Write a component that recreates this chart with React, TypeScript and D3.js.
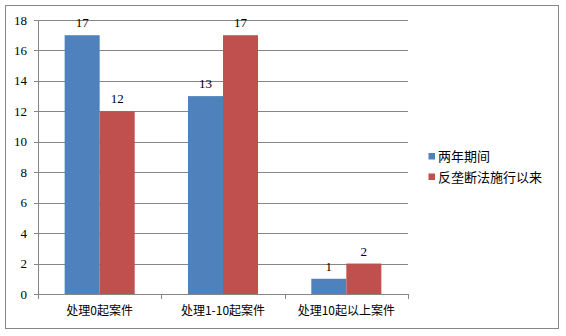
import React from "react";
import * as d3 from "d3";

const categories = ["处理0起案件", "处理1-10起案件", "处理10起以上案件"];
const seriesNames = ["两年期间", "反垄断法施行以来"];
const seriesA = [17, 13, 1];
const seriesB = [12, 17, 2];
const yTicks = [0, 2, 4, 6, 8, 10, 12, 14, 16, 18];
const colors = ["#4F81BD", "#C0504D"];

export default function App() {
  const W = 566, H = 336;
  const left = 38, right = 408, top = 20, bottom = 294;
  const x = d3.scaleBand<string>().domain(categories).range([left, right]).paddingInner(0).paddingOuter(0);
  const y = d3.scaleLinear().domain([0, 18]).range([bottom, top]);
  const bw = x.bandwidth();
  const barW = bw * 0.284;
  const series = [seriesA, seriesB];
  const serif = "'Liberation Serif', 'DejaVu Serif', serif";
  const cjk = "'Noto Sans CJK SC', sans-serif";
  return (
    <svg width={W} height={H} style={{ position: "absolute", left: 0, top: 0, display: "block" }}>
      <rect x={0} y={0} width={W} height={H} fill="#fff" />
      <rect x={5.5} y={5.5} width={553} height={323} fill="#fff" stroke="#868686" strokeWidth={1} />
      {yTicks.map((t) => (
        <g key={t}>
          <line x1={left - 4} x2={right} y1={Math.round(y(t)) + 0.5} y2={Math.round(y(t)) + 0.5} stroke="#868686" />
          <text x={27} y={y(t) + 4.5} textAnchor="end" fontFamily={serif} fontSize={13} fill="#000">{t}</text>
        </g>
      ))}
      <line x1={left + 0.5} x2={left + 0.5} y1={top} y2={bottom + 5} stroke="#868686" />
      {categories.map((c, i) => (
        <line key={"t" + i} x1={Math.round(x(c)! + bw) + 0.5} x2={Math.round(x(c)! + bw) + 0.5} y1={bottom} y2={bottom + 5} stroke="#868686" />
      ))}
      {categories.map((c, i) => {
        const cx = x(c)! + bw / 2;
        return (
          <g key={c}>
            {series.map((s, j) => {
              const bx = cx - barW + j * barW;
              return (
                <g key={j}>
                  <rect x={bx} y={y(s[i])} width={barW} height={bottom - y(s[i])} fill={colors[j]} />
                  <text x={bx + barW / 2} y={y(s[i]) - 8} textAnchor="middle" fontFamily={serif} fontSize={13} fill="#000">{s[i]}</text>
                </g>
              );
            })}
            <text x={cx} y={315} textAnchor="middle" fontFamily={cjk} fontSize={12} fill="#000">{c}</text>
          </g>
        );
      })}
      {seriesNames.map((n, j) => (
        <g key={n}>
          <rect x={428.5} y={153 + j * 20.5} width={6.5} height={6.5} fill={colors[j]} />
          <text x={438} y={161 + j * 20.5} fontFamily={cjk} fontSize={13} fill="#000">{n}</text>
        </g>
      ))}
    </svg>
  );
}
